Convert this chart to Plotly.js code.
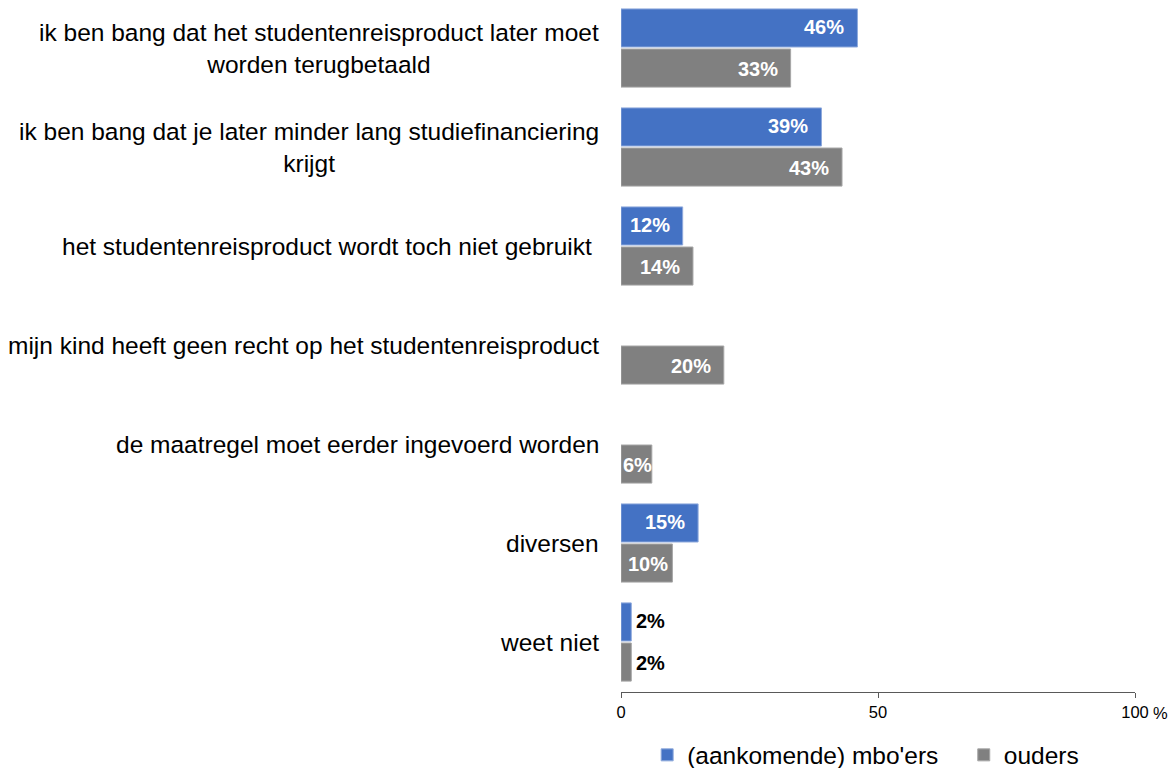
<!DOCTYPE html>
<html>
<head>
<meta charset="utf-8">
<script src="https://cdn.plot.ly/plotly-3.0.1.min.js"></script>
<style>html,body{margin:0;padding:0;background:#fff;}#chart{width:1171px;height:768px;}</style>
</head>
<body>
<div id="chart"></div>
<script>
const categories = [
  "ik ben bang dat het studentenreisproduct later moet<br>worden terugbetaald",
  "ik ben bang dat je later minder lang studiefinanciering<br>krijgt",
  "het studentenreisproduct wordt toch niet gebruikt ",
  "mijn kind heeft geen recht op het studentenreisproduct",
  "de maatregel moet eerder ingevoerd worden",
  "diversen",
  "weet niet"
];
const seriesNames = ["(aankomende) mbo'ers", "ouders"];
const mboValues = [46, 39, 12, null, null, 15, 2];
const ouderValues = [33, 43, 14, 20, 6, 10, 2];
const xTickVals = [0, 50, 100];
const xTickText = ["0", "50", "100"];
const axisUnit = "%";

const FONT = "Arial, 'Liberation Sans', sans-serif";
const BLUE = "#4472C4";
const GRAY = "#808080";
const LEGEND_PAD = "\u00a0\u00a0\u00a0";

const traces = [
  {type: "bar", orientation: "h", name: seriesNames[0] + LEGEND_PAD, x: mboValues, y: categories,
   marker: {color: BLUE, line: {color: "#8faadc", width: 1}}, hoverinfo: "x+y"},
  {type: "bar", orientation: "h", name: seriesNames[1], x: ouderValues, y: categories,
   marker: {color: GRAY, line: {color: "#a6a6a6", width: 1}}, hoverinfo: "x+y"}
];

const annotations = [];
categories.forEach(function (c) {
  annotations.push({xref: "paper", yref: "y", x: 0, y: c, xanchor: "right", yanchor: "middle",
    xshift: -20, text: c, showarrow: false, align: "center",
    font: {family: FONT, size: 24.5, color: "#000"}});
});
function addLabels(vals, shift) {
  vals.forEach(function (v, i) {
    if (v === null || v === undefined) return;
    const t = v + "%";
    let a = {xref: "x", yref: "y", y: categories[i], yshift: shift, text: "<b>" + t + "</b>",
      showarrow: false, yanchor: "middle", font: {family: FONT, size: 20, color: "#fff"}};
    if (v <= 3) {
      a.x = v; a.xanchor = "left"; a.xshift = 3; a.font.color = "#000";
    } else if (v < 11) {
      a.x = v / 2; a.xanchor = "center"; a.xshift = 1;
    } else {
      a.x = v; a.xanchor = "right"; a.xshift = -11;
    }
    annotations.push(a);
  });
}
addLabels(mboValues, 21);
addLabels(ouderValues, -21);
annotations.push({xref: "paper", yref: "paper", x: 1, y: 0, xanchor: "left", yanchor: "middle",
  xshift: 16, yshift: -21, text: axisUnit, showarrow: false,
  font: {family: FONT, size: 16.5, color: "#000"}});

const layout = {
  width: 1171, height: 768,
  margin: {l: 621, r: 36, t: 0, b: 76, pad: 0},
  paper_bgcolor: "#fff", plot_bgcolor: "#fff",
  barmode: "group", bargap: 0.19, bargroupgap: 0.05,
  showlegend: true,
  legend: {orientation: "h", xref: "paper", yref: "container", x: 0.476, xanchor: "center",
    y: 0.017, yanchor: "middle",
    font: {family: FONT, size: 24.5, color: "#000"}, itemwidth: 30, traceorder: "normal",
    bgcolor: "rgba(0,0,0,0)"},
  xaxis: {range: [0, 100], tickvals: xTickVals, ticktext: xTickText, showgrid: false, zeroline: false,
    showline: true, linecolor: "#595959", linewidth: 1, ticks: "outside", ticklen: 5, tickcolor: "#595959",
    tickfont: {family: FONT, size: 16.5, color: "#000"}, fixedrange: true},
  yaxis: {type: "category", range: [6.505, -0.485], showticklabels: false, showgrid: false,
    zeroline: false, showline: false, ticks: "", fixedrange: true},
  annotations: annotations,
  font: {family: FONT}
};

Plotly.newPlot("chart", traces, layout, {displayModeBar: false, staticPlot: true});
</script>
</body>
</html>
